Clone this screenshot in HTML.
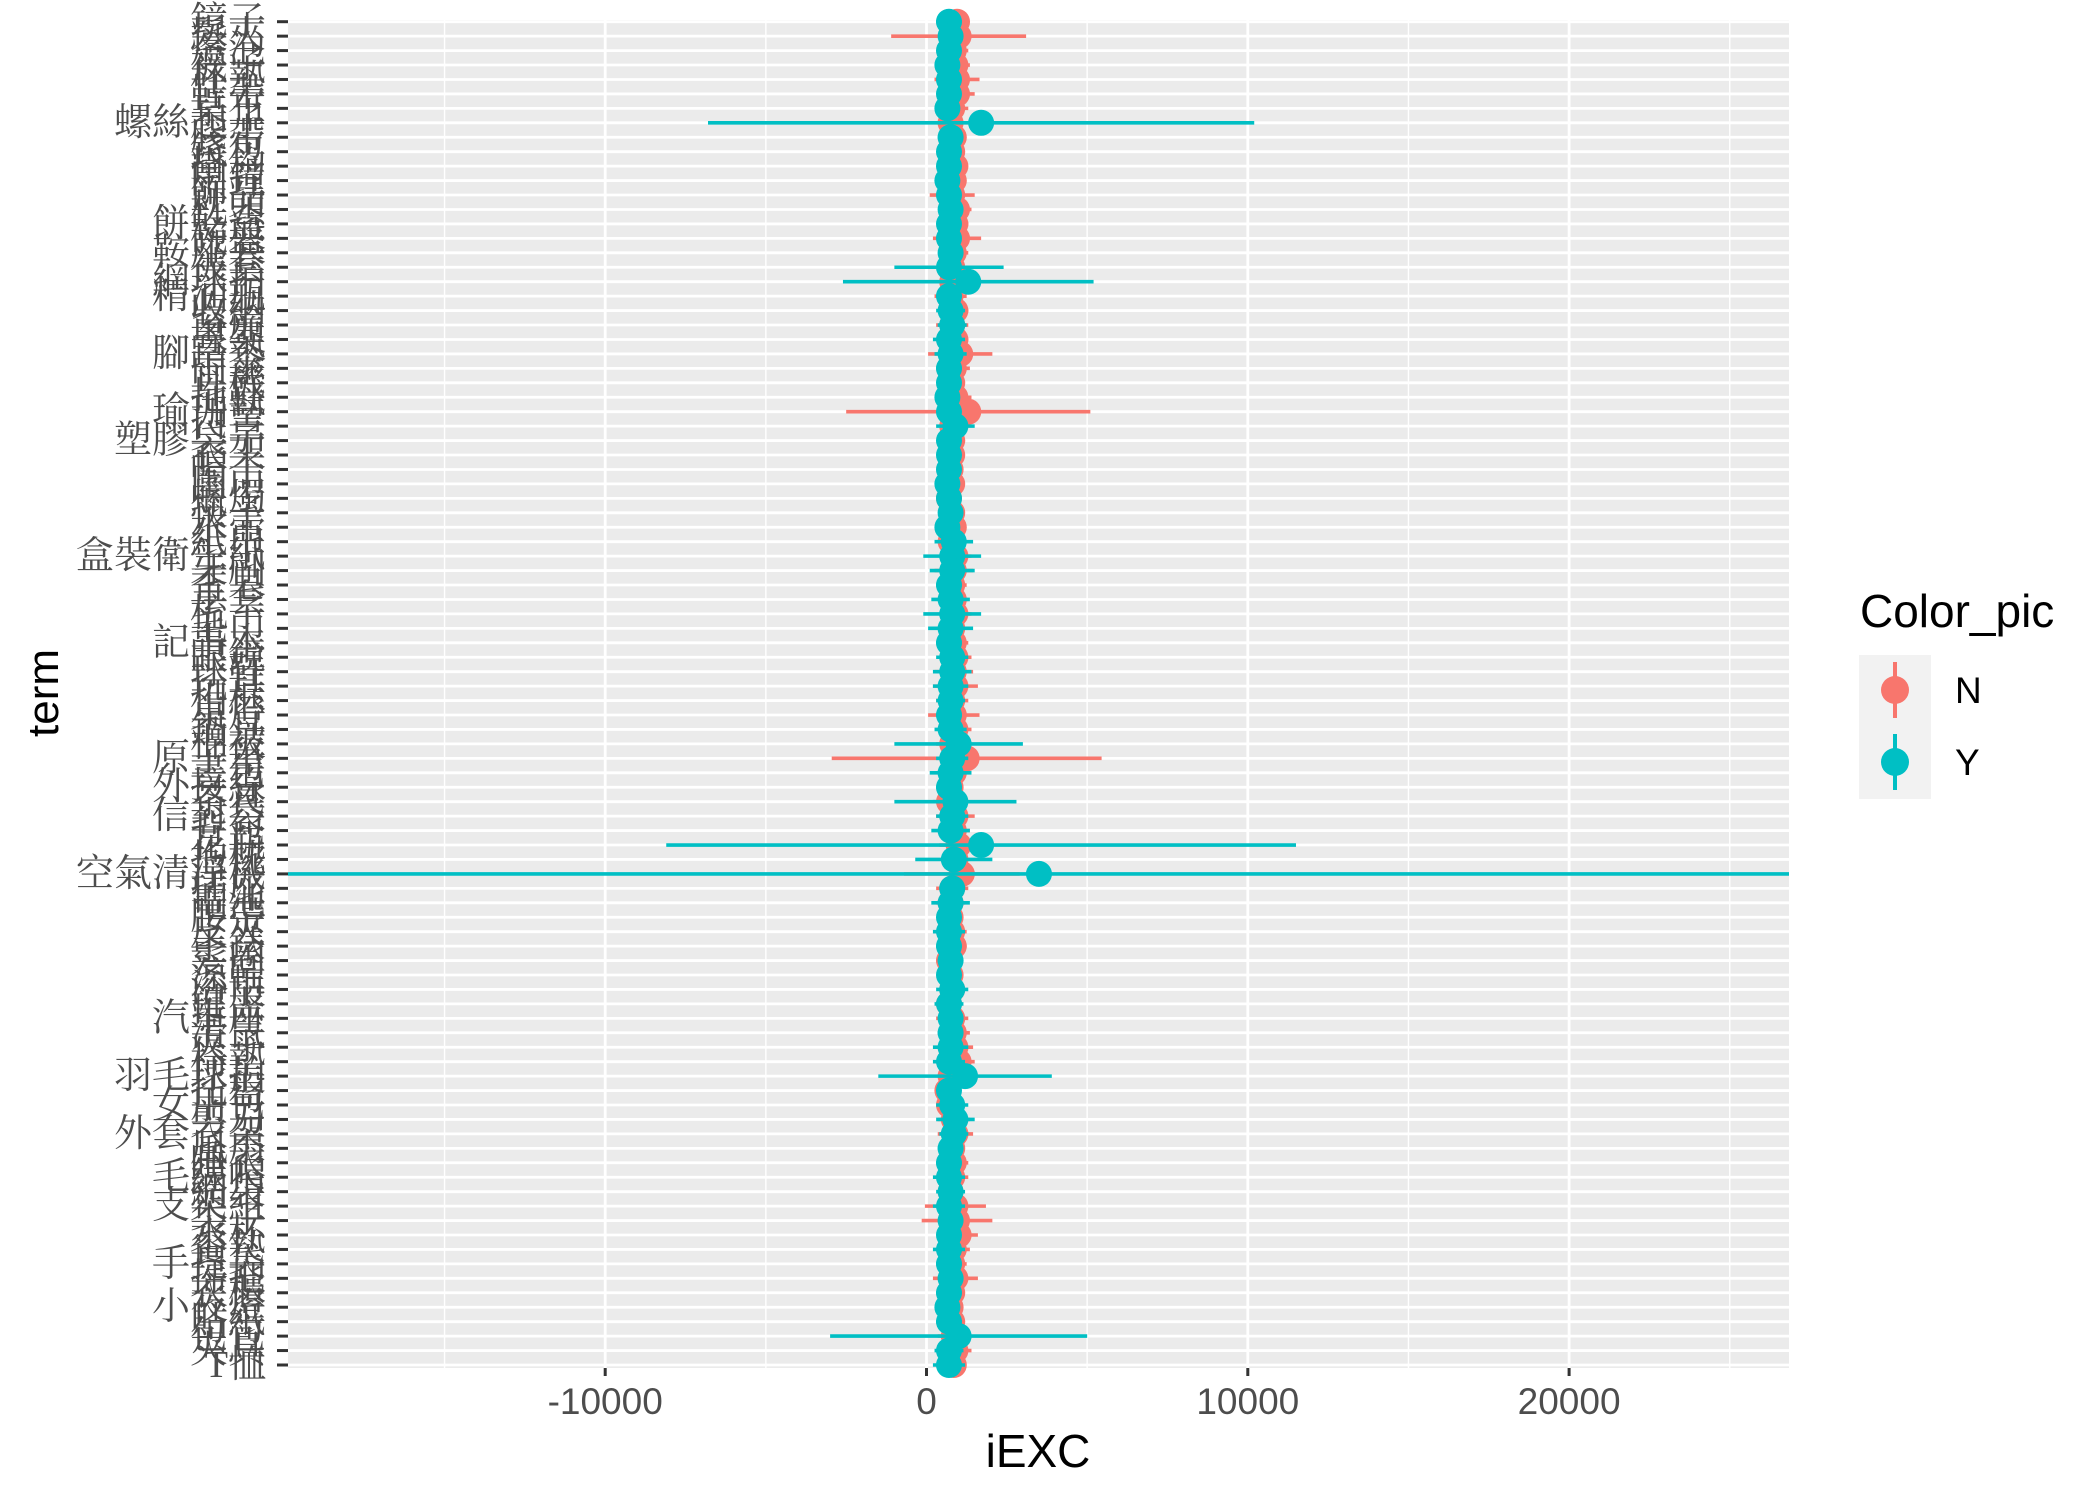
<!DOCTYPE html>
<html><head><meta charset="utf-8"><style>
html,body{margin:0;padding:0;background:#fff;}
svg{display:block;}
</style></head><body>
<svg id="chart" width="2100" height="1499" xmlns="http://www.w3.org/2000/svg">
<rect x="0" y="0" width="2100" height="1499" fill="#fff"/>
<g id="panel"></g>
<g id="yaxis"></g>
<g id="xaxis"></g>
<g id="marks"></g>
<text x="1038" y="1467" text-anchor="middle" font-family="Liberation Sans, sans-serif" font-size="46" fill="#000">iEXC</text>
<text transform="translate(58,693) rotate(-90)" text-anchor="middle" font-family="Liberation Sans, sans-serif" font-size="44" fill="#000">term</text>
<g>
<text x="1860" y="627" font-family="Liberation Sans, sans-serif" font-size="46" fill="#000">Color_pic</text>
<rect x="1859" y="655" width="72" height="144" fill="#f2f2f2"/>
<g>
<line x1="1895" y1="662" x2="1895" y2="718" stroke="#F8766D" stroke-width="4"/>
<circle cx="1895" cy="690" r="14" fill="#F8766D"/>
<text x="1955" y="703" font-family="Liberation Sans, sans-serif" font-size="37" fill="#000">N</text>
</g>
<g>
<line x1="1895" y1="734" x2="1895" y2="790" stroke="#00BFC4" stroke-width="4"/>
<circle cx="1895" cy="762" r="14" fill="#00BFC4"/>
<text x="1955" y="775" font-family="Liberation Sans, sans-serif" font-size="37" fill="#000">Y</text>
</g>
</g>
</svg>
<script>
const terms = ["鏡子","髮夾","燈泡","襪子","杯墊","鞋帶","桌布","螺絲起子","膠帶","錢包",
"掛鉤","鬧鐘","飾品","枕頭","餅乾盒","碗盤","鞍座套","被套","網球拍","精油瓶",
"收納","窗簾","書架","腳踏墊","雨傘","耳機","拖鞋","瑜珈墊","口罩","塑膠袋子",
"衣架","帽子","圍巾","蠟燭","筷子","水壺","紙巾","盒裝衛生紙","牙刷","香皂",
"手套","梳子","毛巾","記事本","眼鏡","球鞋","玩具","相框","桌燈","鍋具",
"棉被","原子筆","書包","外接線","茶具","信封袋","背包","花瓶","抱枕","空氣清淨機",
"插座","電池","腰帶","皮夾","手錶","髮圈","涼鞋","浴巾","鍵盤","汽車座",
"滑鼠","夾子","椅墊","羽毛球拍","托盤","女用包","剪刀","外套衣架","風扇","睡衣",
"毛線帽","網袋","支架組","袋子","水杯","餐墊","手提袋","掃把","衣櫃","小夜燈",
"貼紙","包包","夾具","T恤"];
const nMid = [950,1000,850,900,950,950,800,750,850,800,
900,850,800,950,900,950,850,800,800,750,
900,800,900,1050,850,800,900,1300,800,800,
800,750,800,700,800,850,750,900,850,800,
850,900,800,850,900,850,900,800,850,900,
800,1250,850,750,700,900,850,1000,900,1100,
800,750,750,800,850,700,750,800,700,800,
850,900,1000,750,650,700,850,900,800,850,
800,750,900,950,1000,850,800,900,800,750,
800,850,900,850];
const nErr = [300,2100,450,450,700,550,500,400,350,250,
300,350,700,450,400,750,450,300,400,500,
400,500,400,1000,500,400,500,3800,400,400,
300,300,350,250,300,300,400,500,600,450,
450,500,400,450,500,600,700,500,800,500,
500,4200,400,400,500,600,500,600,400,1800,
500,450,350,450,400,400,350,400,400,500,
500,550,500,400,300,400,500,550,400,450,
500,400,950,1100,600,500,450,700,400,350,
400,500,500,350];
const yMid = [700,750,700,650,700,700,650,1700,750,700,
700,650,700,750,700,700,750,700,1300,700,
750,800,700,750,700,700,650,700,900,700,
700,700,650,700,750,650,850,800,800,700,
750,800,750,700,800,800,750,750,700,750,
1000,800,750,700,900,800,750,1700,850,3500,
800,750,700,700,700,750,700,800,700,750,
750,750,700,1200,700,800,900,850,750,700,
700,750,700,750,700,700,700,750,700,650,
700,1000,700,700];
const yErr = [400,300,300,350,300,300,300,8500,400,250,
300,300,300,350,350,300,300,1700,3900,400,
450,450,500,500,400,350,300,300,600,350,
300,300,350,300,300,350,600,900,700,400,
600,900,700,400,500,600,550,450,400,500,
2000,500,650,400,1900,500,600,9800,1200,24000,
400,600,350,500,400,400,350,500,450,400,
400,550,500,2700,350,500,600,450,400,400,
500,450,500,400,350,500,400,400,400,350,
400,4000,450,500];
const xMajor = [-10000,0,10000,20000];
const xMajorLabels = ["-10000","0","10000","20000"];
const xMinor = [-15000,-5000,5000,15000,25000];

const NS = "http://www.w3.org/2000/svg";
const PL = 288, PR = 1789, PT = 20, PB = 1368;
const X0 = 926.5, XK = 321.3 / 10000;
function xs(v){ return X0 + v * XK; }
function ys(i){ return 21.7 + i * (1365 - 21.7) / (terms.length - 1); }
function mk(tag, attrs, parent){
  const e = document.createElementNS(NS, tag);
  for (const k in attrs) e.setAttribute(k, attrs[k]);
  parent.appendChild(e);
  return e;
}
function clampX(v){ return Math.max(PL, Math.min(PR, xs(v))); }

const panel = document.getElementById('panel');
const bg = mk('rect', {x:PL, y:PT, width:PR-PL, height:PB-PT, fill:'#ebebeb'}, panel);


xMinor.forEach(v => {
  if (xs(v) > PR) return;
  const l = mk('line', {x1:xs(v), x2:xs(v), y1:PT, y2:PB, stroke:'#fff', 'stroke-width':1.4}, panel);
  
  
});
xMajor.forEach(v => {
  const l = mk('line', {x1:xs(v), x2:xs(v), y1:PT, y2:PB, stroke:'#fff', 'stroke-width':2.8}, panel);
  
  
});
terms.forEach((t, i) => {
  const l = mk('line', {x1:PL, x2:PR, y1:ys(i), y2:ys(i), stroke:'#fff', 'stroke-width':2.8}, panel);
  
  
});

const yaxis = document.getElementById('yaxis');
terms.forEach((t, i) => {
  const tk = mk('line', {x1:277, x2:288, y1:ys(i), y2:ys(i), stroke:'#333', 'stroke-width':3}, yaxis);
  
  
  const tx = mk('text', {x:266, y:ys(i), 'text-anchor':'end', 'dominant-baseline':'central', 'font-size':38,
    'font-family':'"Liberation Serif", "Noto Serif CJK SC", "Noto Sans CJK TC", serif', fill:'#4d4d4d'}, yaxis);
  tx.textContent = t;
  
  
});

const xaxis = document.getElementById('xaxis');
xMajor.forEach((v, k) => {
  const tk = mk('line', {x1:xs(v), x2:xs(v), y1:PB, y2:PB+8, stroke:'#333', 'stroke-width':3}, xaxis);
  
  
  const tx = mk('text', {x:xs(v), y:1414, 'text-anchor':'middle', 'font-size':37,
    'font-family':'"Liberation Sans", sans-serif', fill:'#4d4d4d'}, xaxis);
  tx.textContent = xMajorLabels[k];
  
  
});

const marks = document.getElementById('marks');
function drawSeries(mid, err, color, name){
  const g = mk('g', {}, marks);
  
  
  mid.forEach((m, i) => {
    const y = ys(i);
    const l = mk('line', {x1:clampX(m - err[i]), x2:clampX(m + err[i]), y1:y, y2:y, stroke:color, 'stroke-width':3.6}, g);
    
    
    const c = mk('circle', {cx:xs(m), cy:y, r:13, fill:color}, g);
    
    
  });
}
drawSeries(nMid, nErr, '#F8766D', 'series-n');
drawSeries(yMid, yErr, '#00BFC4', 'series-y');
</script>
</body></html>
